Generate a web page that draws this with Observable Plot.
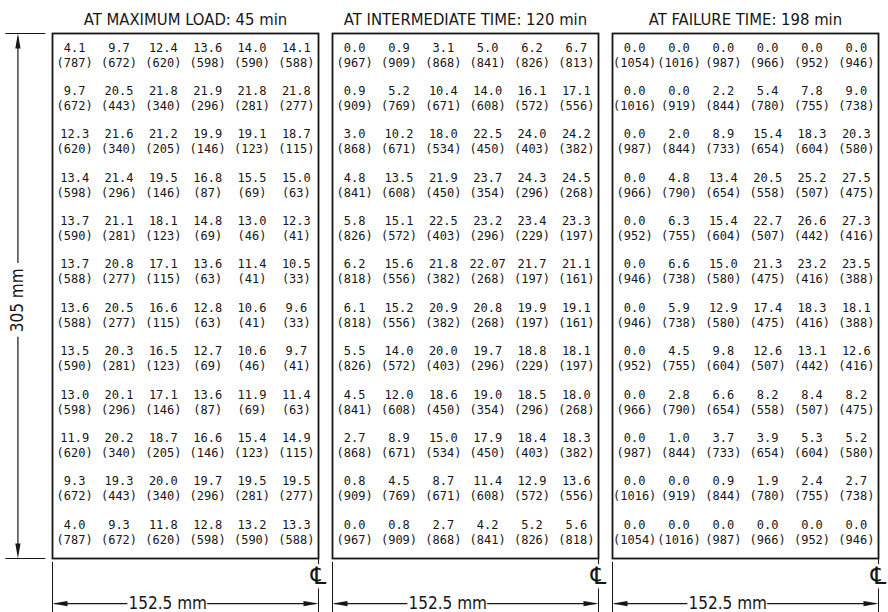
<!DOCTYPE html>
<html>
<head>
<meta charset="utf-8">
<script src="https://cdn.jsdelivr.net/npm/d3@7"></script>
<script src="https://cdn.jsdelivr.net/npm/@observablehq/plot@0.6"></script>
<style>
  html, body { margin: 0; padding: 0; background: #fff; }
  #chart svg { display: block; }
</style>
</head>
<body>
<div id="chart"></div>
<script>
// Panel headings (one per time step)
const panelTitles = ["AT MAXIMUM LOAD: 45 min", "AT INTERMEDIATE TIME: 120 min", "AT FAILURE TIME: 198 min"];

// Upper figure in each cell, row by row (top to bottom), six columns each
const maxLoadValues = [
  ["4.1", "9.7", "12.4", "13.6", "14.0", "14.1"],
  ["9.7", "20.5", "21.8", "21.9", "21.8", "21.8"],
  ["12.3", "21.6", "21.2", "19.9", "19.1", "18.7"],
  ["13.4", "21.4", "19.5", "16.8", "15.5", "15.0"],
  ["13.7", "21.1", "18.1", "14.8", "13.0", "12.3"],
  ["13.7", "20.8", "17.1", "13.6", "11.4", "10.5"],
  ["13.6", "20.5", "16.6", "12.8", "10.6", "9.6"],
  ["13.5", "20.3", "16.5", "12.7", "10.6", "9.7"],
  ["13.0", "20.1", "17.1", "13.6", "11.9", "11.4"],
  ["11.9", "20.2", "18.7", "16.6", "15.4", "14.9"],
  ["9.3", "19.3", "20.0", "19.7", "19.5", "19.5"],
  ["4.0", "9.3", "11.8", "12.8", "13.2", "13.3"]
];
const intermediateValues = [
  ["0.0", "0.9", "3.1", "5.0", "6.2", "6.7"],
  ["0.9", "5.2", "10.4", "14.0", "16.1", "17.1"],
  ["3.0", "10.2", "18.0", "22.5", "24.0", "24.2"],
  ["4.8", "13.5", "21.9", "23.7", "24.3", "24.5"],
  ["5.8", "15.1", "22.5", "23.2", "23.4", "23.3"],
  ["6.2", "15.6", "21.8", "22.07", "21.7", "21.1"],
  ["6.1", "15.2", "20.9", "20.8", "19.9", "19.1"],
  ["5.5", "14.0", "20.0", "19.7", "18.8", "18.1"],
  ["4.5", "12.0", "18.6", "19.0", "18.5", "18.0"],
  ["2.7", "8.9", "15.0", "17.9", "18.4", "18.3"],
  ["0.8", "4.5", "8.7", "11.4", "12.9", "13.6"],
  ["0.0", "0.8", "2.7", "4.2", "5.2", "5.6"]
];
const failureValues = [
  ["0.0", "0.0", "0.0", "0.0", "0.0", "0.0"],
  ["0.0", "0.0", "2.2", "5.4", "7.8", "9.0"],
  ["0.0", "2.0", "8.9", "15.4", "18.3", "20.3"],
  ["0.0", "4.8", "13.4", "20.5", "25.2", "27.5"],
  ["0.0", "6.3", "15.4", "22.7", "26.6", "27.3"],
  ["0.0", "6.6", "15.0", "21.3", "23.2", "23.5"],
  ["0.0", "5.9", "12.9", "17.4", "18.3", "18.1"],
  ["0.0", "4.5", "9.8", "12.6", "13.1", "12.6"],
  ["0.0", "2.8", "6.6", "8.2", "8.4", "8.2"],
  ["0.0", "1.0", "3.7", "3.9", "5.3", "5.2"],
  ["0.0", "0.0", "0.9", "1.9", "2.4", "2.7"],
  ["0.0", "0.0", "0.0", "0.0", "0.0", "0.0"]
];

// Bracketed figure in each cell, same layout
const maxLoadBracketed = [
  [787, 672, 620, 598, 590, 588],
  [672, 443, 340, 296, 281, 277],
  [620, 340, 205, 146, 123, 115],
  [598, 296, 146, 87, 69, 63],
  [590, 281, 123, 69, 46, 41],
  [588, 277, 115, 63, 41, 33],
  [588, 277, 115, 63, 41, 33],
  [590, 281, 123, 69, 46, 41],
  [598, 296, 146, 87, 69, 63],
  [620, 340, 205, 146, 123, 115],
  [672, 443, 340, 296, 281, 277],
  [787, 672, 620, 598, 590, 588]
];
const intermediateBracketed = [
  [967, 909, 868, 841, 826, 813],
  [909, 769, 671, 608, 572, 556],
  [868, 671, 534, 450, 403, 382],
  [841, 608, 450, 354, 296, 268],
  [826, 572, 403, 296, 229, 197],
  [818, 556, 382, 268, 197, 161],
  [818, 556, 382, 268, 197, 161],
  [826, 572, 403, 296, 229, 197],
  [841, 608, 450, 354, 296, 268],
  [868, 671, 534, 450, 403, 382],
  [909, 769, 671, 608, 572, 556],
  [967, 909, 868, 841, 826, 818]
];
const failureBracketed = [
  [1054, 1016, 987, 966, 952, 946],
  [1016, 919, 844, 780, 755, 738],
  [987, 844, 733, 654, 604, 580],
  [966, 790, 654, 558, 507, 475],
  [952, 755, 604, 507, 442, 416],
  [946, 738, 580, 475, 416, 388],
  [946, 738, 580, 475, 416, 388],
  [952, 755, 604, 507, 442, 416],
  [966, 790, 654, 558, 507, 475],
  [987, 844, 733, 654, 604, 580],
  [1016, 919, 844, 780, 755, 738],
  [1054, 1016, 987, 966, 952, 946]
];

// Dimension labels
const widthLabel = "152.5 mm";
const heightLabel = "305 mm";
const centreLineSymbol = "\u2104";

// ---- build the cell table ----
const panelValues = [maxLoadValues, intermediateValues, failureValues];
const panelBracketed = [maxLoadBracketed, intermediateBracketed, failureBracketed];
const cells = [];
panelTitles.forEach((panel, p) => {
  panelValues[p].forEach((row, r) => {
    row.forEach((value, c) => {
      cells.push({panel, row: r, col: c, value, bracketed: panelBracketed[p][r][c]});
    });
  });
});

const ink = "#161616";
const mono = "'DejaVu Sans Mono', 'Liberation Mono', monospace";
const narrow = "'DejaVu Sans Condensed', 'Liberation Sans Narrow', 'DejaVu Sans', sans-serif";

// Grid units: columns 0..6 across a panel, rows 0..12 down it;
// the dimension drawing lives just outside that range.
const gridBottom = 12.1;
const dimY = 13.14;          // horizontal dimension line under each panel
const clY = 12.5;            // centre-line symbol
const leftDimX = -0.78;      // vertical dimension line left of the first panel
const widthLabelX = 2.6;
const firstPanel = [{panel: panelTitles[0]}];

const arrowStyle = {length: 15, r: 2.6, shape: "spike", anchor: "end", fill: ink, stroke: "none"};

const chart = Plot.plot({
  width: 888,
  height: 612,
  marginTop: 33,
  marginBottom: 54,
  marginLeft: 52,
  marginRight: 10,
  fx: {domain: panelTitles, paddingInner: 0.05, paddingOuter: 0, axis: null},
  x: {domain: [0, 6], axis: null},
  y: {domain: [0, gridBottom], reverse: true, axis: null},
  style: {background: "#fff", color: ink},
  marks: [
    Plot.frame({stroke: ink, strokeWidth: 1.8}),

    // panel headings
    Plot.text(panelTitles, {fx: d => d, frameAnchor: "top", lineAnchor: "middle", text: d => d, dy: -14,
      fontSize: 16.5, fontFamily: narrow, fill: ink}),

    // cell figures
    Plot.text(cells, {fx: "panel", x: d => d.col + 0.5, y: d => d.row + 0.5, text: "value",
      dy: -7.5, fontSize: 12, fontFamily: mono, fill: ink}),
    Plot.text(cells, {fx: "panel", x: d => d.col + 0.5, y: d => d.row + 0.5, text: d => `(${d.bracketed})`,
      dy: 7.5, fontSize: 12, fontFamily: mono, fill: ink}),

    // width dimension under every panel
    Plot.ruleX([0], {y1: 12.19, y2: 13.6, stroke: ink, strokeWidth: 1}),
    Plot.ruleX([6], {y1: gridBottom, y2: 12.24, stroke: ink, strokeWidth: 1}),
    Plot.ruleX([6], {y1: 12.8, y2: 13.6, stroke: ink, strokeWidth: 1}),
    Plot.text([centreLineSymbol], {x: 6, y: clY, text: d => d, fontSize: 24,
      fontFamily: "'DejaVu Sans', sans-serif", fill: ink}),
    Plot.ruleY([dimY], {x1: 0.05, x2: widthLabelX - 0.9, stroke: ink, strokeWidth: 1.2}),
    Plot.ruleY([dimY], {x1: widthLabelX + 0.9, x2: 5.95, stroke: ink, strokeWidth: 1.2}),
    Plot.vector([0], {x: d => d, y: dimY, rotate: -90, ...arrowStyle}),
    Plot.vector([6], {x: d => d, y: dimY, rotate: 90, ...arrowStyle}),
    Plot.text([widthLabel], {x: widthLabelX, y: dimY, text: d => d, fontSize: 17,
      fontFamily: narrow, fill: ink}),

    // height dimension beside the first panel
    Plot.ruleY(firstPanel, {fx: "panel", y: () => 0, x1: -1.05, x2: -0.15, stroke: ink, strokeWidth: 1.2}),
    Plot.ruleY(firstPanel, {fx: "panel", y: () => gridBottom, x1: -1.05, x2: -0.15, stroke: ink, strokeWidth: 1.2}),
    Plot.ruleX(firstPanel, {fx: "panel", x: () => leftDimX, y1: 0.1, y2: 5.3, stroke: ink, strokeWidth: 1.2}),
    Plot.ruleX(firstPanel, {fx: "panel", x: () => leftDimX, y1: 7.0, y2: gridBottom - 0.1, stroke: ink, strokeWidth: 1.2}),
    Plot.vector(firstPanel, {fx: "panel", x: () => leftDimX, y: () => 0, rotate: 0, ...arrowStyle}),
    Plot.vector(firstPanel, {fx: "panel", x: () => leftDimX, y: () => gridBottom, rotate: 180, ...arrowStyle}),
    Plot.text(firstPanel, {fx: "panel", x: () => leftDimX, y: () => 6.15, text: () => heightLabel,
      rotate: -90, fontSize: 17, fontFamily: narrow, fill: ink})
  ]
});

document.getElementById("chart").appendChild(chart);
</script>
</body>
</html>
